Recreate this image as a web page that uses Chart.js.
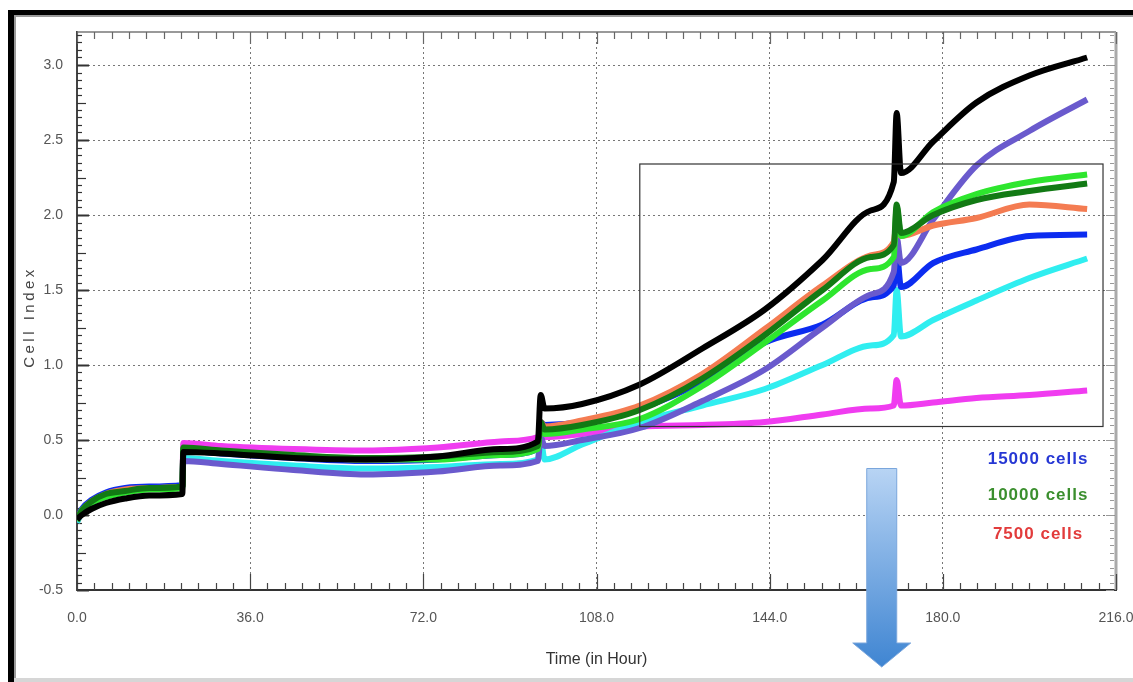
<!DOCTYPE html>
<html>
<head>
<meta charset="utf-8">
<script src="https://cdn.jsdelivr.net/npm/chart.js@4"></script>
<style>
  html, body { margin: 0; padding: 0; background: #fff; }
</style>
</head>
<body>
<canvas id="chart" width="1133" height="682"></canvas>
<script>
// sampled times (hours) shared by all wells
const hours = [0, 1, 3, 6, 10, 15, 21.9, 22.1, 30, 45, 60, 75, 88, 95.8, 96.4, 97.2, 105, 117, 130, 143, 155, 165, 169.8, 170.4, 171.3, 178, 187, 198, 210];

// cell index per well
const ciBlack   = [-0.03, 0.00, 0.04, 0.08, 0.11, 0.13, 0.14, 0.42, 0.41, 0.38, 0.37, 0.39, 0.44, 0.49, 0.80, 0.71, 0.74, 0.87, 1.11, 1.37, 1.70, 2.03, 2.22, 2.68, 2.28, 2.49, 2.75, 2.93, 3.05];
const ciPurple  = [-0.04, 0.02, 0.08, 0.13, 0.16, 0.18, 0.19, 0.36, 0.34, 0.30, 0.27, 0.29, 0.33, 0.36, 0.52, 0.46, 0.50, 0.58, 0.76, 0.97, 1.25, 1.47, 1.62, 1.85, 1.68, 1.97, 2.33, 2.56, 2.77];
const ciLime    = [-0.04, 0.03, 0.08, 0.12, 0.15, 0.17, 0.18, 0.44, 0.42, 0.39, 0.37, 0.37, 0.40, 0.44, 0.60, 0.54, 0.57, 0.64, 0.86, 1.15, 1.43, 1.64, 1.72, 2.05, 1.86, 2.02, 2.14, 2.22, 2.27];
const ciDkGreen = [-0.03, 0.03, 0.09, 0.14, 0.16, 0.18, 0.19, 0.45, 0.43, 0.40, 0.38, 0.39, 0.42, 0.46, 0.62, 0.57, 0.60, 0.70, 0.91, 1.20, 1.50, 1.72, 1.80, 2.07, 1.88, 2.00, 2.10, 2.16, 2.21];
const ciCoral   = [-0.03, 0.03, 0.09, 0.14, 0.17, 0.18, 0.19, 0.44, 0.42, 0.39, 0.37, 0.38, 0.41, 0.45, 0.62, 0.59, 0.63, 0.73, 0.94, 1.24, 1.53, 1.73, 1.82, 1.95, 1.86, 1.93, 1.98, 2.07, 2.04];
const ciBlue    = [-0.03, 0.04, 0.10, 0.15, 0.18, 0.19, 0.20, 0.43, 0.41, 0.38, 0.36, 0.37, 0.40, 0.44, 0.62, 0.60, 0.62, 0.71, 0.89, 1.15, 1.27, 1.45, 1.53, 1.75, 1.52, 1.68, 1.77, 1.86, 1.87];
const ciCyan    = [-0.05, 0.02, 0.08, 0.13, 0.16, 0.18, 0.19, 0.38, 0.36, 0.33, 0.31, 0.32, 0.34, 0.37, 0.50, 0.37, 0.47, 0.62, 0.73, 0.84, 1.00, 1.13, 1.20, 1.50, 1.19, 1.30, 1.43, 1.58, 1.71];
const ciMagenta = [-0.04, 0.02, 0.08, 0.13, 0.16, 0.18, 0.19, 0.48, 0.46, 0.44, 0.43, 0.45, 0.49, 0.52, 0.54, 0.52, 0.54, 0.59, 0.60, 0.62, 0.67, 0.71, 0.73, 0.90, 0.73, 0.75, 0.78, 0.80, 0.83];

const xTicks = [0, 36, 72, 108, 144, 180, 216];
const legendLabels = ['15000 cells', '10000 cells', '7500 cells'];
const legendColors = ['#2637d4', '#3b8f2e', '#e23b3b'];
const legendCI = [0.37, 0.13, -0.13];
const legendHour = 199.8;
const boxHours = [117, 213.3];
const boxCI = [0.59, 2.34];
const arrowHour = 167.3;
const arrowTopCI = 0.31;

const narrow = "'Liberation Sans Narrow', 'Arial Narrow', 'Liberation Sans', Arial, sans-serif";

function series(values) {
    return hours.map((h, i) => ({ x: h, y: values[i] }));
}

function line(ctx, x1, y1, x2, y2) {
    ctx.beginPath();
    ctx.moveTo(x1, y1);
    ctx.lineTo(x2, y2);
    ctx.stroke();
}

const decorations = {
    id: 'decorations',
    beforeDraw(chart) {
        const ctx = chart.ctx;
        const w = chart.width, h = chart.height;
        ctx.save();
        ctx.fillStyle = '#fff';
        ctx.fillRect(0, 0, w, h);
        // outer picture frame
        ctx.fillStyle = '#000';
        ctx.fillRect(8, 10, 6, h - 10);
        ctx.fillRect(8, 10, w - 8, 5);
        ctx.fillStyle = '#9a9a9a';
        ctx.fillRect(14, 15, 2, h - 15);
        ctx.fillRect(14, 15, w - 14, 2);
        ctx.fillStyle = '#d6d6d6';
        ctx.fillRect(14, h - 4, w - 14, 4);
        ctx.restore();
    },
    beforeDatasetsDraw(chart) {
        const { ctx, chartArea: a, scales: { x, y } } = chart;
        ctx.save();
        // top and right edges of the plot
        ctx.strokeStyle = '#777';
        ctx.lineWidth = 1.5;
        line(ctx, a.left, a.top, a.right, a.top);
        ctx.strokeStyle = '#aaa';
        ctx.lineWidth = 3;
        line(ctx, a.right, a.top, a.right, a.bottom);

        // x ticks, every 3.6 h
        ctx.lineWidth = 1.2;
        for (let i = 0; i <= 60; i++) {
            const px = Math.round(x.getPixelForValue(i * 3.6)) + 0.5;
            const major = i % 10 === 0;
            ctx.strokeStyle = '#444';
            line(ctx, px, a.bottom, px, a.bottom - (major ? 16 : 7));
            ctx.strokeStyle = '#666';
            line(ctx, px, a.top, px, a.top + (major ? 12 : 7));
        }
        // y ticks, every 0.05
        for (let i = 0; ; i++) {
            const v = -0.5 + i * 0.05;
            if (v > y.max) break;
            const py = Math.round(y.getPixelForValue(v)) + 0.5;
            const len = i % 10 === 0 ? 12 : (i % 5 === 0 ? 9 : 5);
            ctx.strokeStyle = '#333';
            ctx.lineWidth = i % 10 === 0 ? 2 : 1.2;
            line(ctx, a.left, py, a.left + len, py);
            ctx.strokeStyle = '#999';
            ctx.lineWidth = 1;
            line(ctx, a.right - 2, py, a.right - 2 - (i % 10 === 0 ? 8 : 4), py);
        }
        ctx.restore();
    },
    afterDatasetsDraw(chart) {
        const { ctx, chartArea: a, scales: { x, y } } = chart;
        ctx.save();
        // zoom box
        ctx.strokeStyle = '#333';
        ctx.lineWidth = 1.2;
        const bx1 = x.getPixelForValue(boxHours[0]), bx2 = x.getPixelForValue(boxHours[1]);
        const by1 = y.getPixelForValue(boxCI[1]), by2 = y.getPixelForValue(boxCI[0]);
        ctx.strokeRect(bx1, by1, bx2 - bx1, by2 - by1);

        // legend text
        ctx.font = "bold 17px 'Liberation Sans', Arial, sans-serif";
        ctx.letterSpacing = '1px';
        ctx.textAlign = 'center';
        ctx.textBaseline = 'middle';
        legendLabels.forEach((t, i) => {
            ctx.fillStyle = legendColors[i];
            ctx.fillText(t, x.getPixelForValue(legendHour), y.getPixelForValue(legendCI[i]));
        });
        ctx.letterSpacing = '0px';

        // arrow
        const cx = x.getPixelForValue(arrowHour);
        const top = y.getPixelForValue(arrowTopCI);
        const tip = a.bottom + 77;
        const headTop = tip - 24;
        const g = ctx.createLinearGradient(0, top, 0, tip);
        g.addColorStop(0, '#b8d4f4');
        g.addColorStop(1, '#3f85d2');
        ctx.fillStyle = g;
        ctx.beginPath();
        ctx.moveTo(cx - 15, top);
        ctx.lineTo(cx + 15, top);
        ctx.lineTo(cx + 15, headTop);
        ctx.lineTo(cx + 29, headTop);
        ctx.lineTo(cx, tip);
        ctx.lineTo(cx - 29, headTop);
        ctx.lineTo(cx - 15, headTop);
        ctx.closePath();
        ctx.fill();
        ctx.strokeStyle = '#7aa6dc';
        ctx.lineWidth = 1;
        ctx.stroke();

        // y title with wide letter spacing
        ctx.translate(30, (a.top + a.bottom) / 2 + 6);
        ctx.rotate(-Math.PI / 2);
        ctx.font = "15px 'Liberation Sans', Arial, sans-serif";
        ctx.letterSpacing = '3.5px';
        ctx.fillStyle = '#444';
        ctx.fillText('Cell Index', 0, 0);
        ctx.restore();
    }
};

const mk = (values, color) => ({
    data: series(values),
    borderColor: color,
    backgroundColor: color,
    borderWidth: 6,
    pointRadius: 0,
    cubicInterpolationMode: 'monotone',
    fill: false
});

new Chart(document.getElementById('chart'), {
    type: 'line',
    data: {
        datasets: [
            mk(ciBlack, '#000000'),
            mk(ciDkGreen, '#127a14'),
            mk(ciLime, '#2ee62e'),
            mk(ciCoral, '#f47c52'),
            mk(ciPurple, '#6a5acd'),
            mk(ciBlue, '#0c2cf0'),
            mk(ciCyan, '#30eef0'),
            mk(ciMagenta, '#f03cf0')
        ]
    },
    options: {
        responsive: false,
        animation: false,
        devicePixelRatio: 1,
        layout: { padding: { left: 15, right: 17, top: 32, bottom: 0 } },
        plugins: { legend: { display: false }, tooltip: { enabled: false } },
        scales: {
            x: {
                type: 'linear',
                min: 0,
                max: 216,
                afterFit(s) { s.height = 92; s.paddingLeft = 0; s.paddingRight = 0; },
                afterBuildTicks(s) { s.ticks = xTicks.map(v => ({ value: v })); },
                ticks: {
                    padding: 20,
                    color: '#555',
                    font: { family: narrow, size: 14 },
                    callback: v => v.toFixed(1),
                    maxRotation: 0
                },
                grid: { color: '#777', drawTicks: false, lineWidth: 1 },
                border: { color: '#333', width: 2, dash: [2, 3] },
                title: {
                    display: true,
                    text: 'Time (in Hour)',
                    color: '#333',
                    font: { family: narrow, size: 16 },
                    padding: { top: 0, bottom: 13 }
                }
            },
            y: {
                type: 'linear',
                min: -0.5,
                max: 3.22,
                afterFit(s) { s.width = 62; s.paddingTop = 0; s.paddingBottom = 0; },
                ticks: {
                    stepSize: 0.5,
                    includeBounds: false,
                    padding: 14,
                    color: '#555',
                    font: { family: narrow, size: 14 },
                    callback: v => v.toFixed(1)
                },
                grid: { color: '#777', drawTicks: false, lineWidth: 1 },
                border: { color: '#444', width: 2, dash: [2, 3] }
            }
        }
    },
    plugins: [decorations]
});
</script>
</body>
</html>
